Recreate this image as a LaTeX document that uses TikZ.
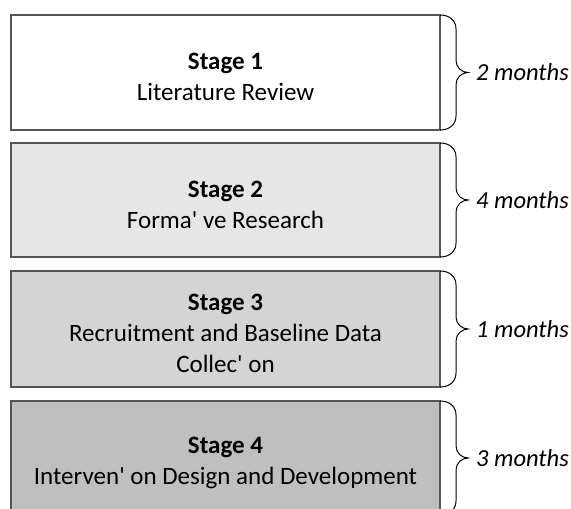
\documentclass[tikz,border=0pt]{standalone}
\usepackage{fontspec}
\setmainfont{Carlito}
\usetikzlibrary{calc}
\definecolor{edgegray}{HTML}{555555}
\definecolor{fillA}{HTML}{FFFFFF}
\definecolor{fillB}{HTML}{E6E6E6}
\definecolor{fillC}{HTML}{D4D4D4}
\definecolor{fillD}{HTML}{BFBFBF}
\newcommand\stagebrace[1]{%
  \draw[bracestyle] (#1.north east) .. controls +(10,0) and +(0,8) .. ($(#1.north east)+(16,-14)$)
    -- ($(#1.east)+(16,12)$) .. controls +(0,-7) and +(-6,0) .. ($(#1.east)+(28,0)$)
    .. controls +(-6,0) and +(0,7) .. ($(#1.east)+(16,-12)$)
    -- ($(#1.south east)+(16,14)$) .. controls +(0,-8) and +(10,0) .. (#1.south east);}
\begin{document}
\begin{tikzpicture}[x=1pt,y=1pt,
  stagebox/.style={draw=edgegray,line width=1.3pt,rectangle,minimum width=429pt,inner sep=0pt,outer sep=0pt,anchor=north west},
  stagetext/.style={align=center,font=\fontsize{25}{31}\selectfont,inner sep=0pt},
  months/.style={font=\fontsize{24.5}{29}\selectfont\itshape,anchor=west,inner sep=0pt},
  bracestyle/.style={draw=black,line width=1pt}]
\useasboundingbox (0,0) rectangle (571,-509);
\clip (0,0) rectangle (571,-509);
\node[stagebox,fill=fillA,minimum height=115pt] (b1) at (11,-15) {};
\node[stagebox,fill=fillB,minimum height=114pt] (b2) at (11,-143) {};
\node[stagebox,fill=fillC,minimum height=116pt] (b3) at (11,-271) {};
\node[stagebox,fill=fillD,minimum height=114pt] (b4) at (11,-401) {};
\node[stagetext] (t1) at ($(b1.center)+(0,-4.5)$) {\textbf{Stage 1}\\Literature Review};
\node[stagetext] (t2) at ($(b2.center)+(0,-4.5)$) {\textbf{Stage 2}\\Forma\textquotesingle\ ve Research};
\node[stagetext] (t3) at ($(b3.center)+(0,-4)$) {\textbf{Stage 3}\\Recruitment and Baseline Data\\Collec\textquotesingle\ on};
\node[stagetext] (t4) at ($(b4.center)+(0,-4.5)$) {\textbf{Stage 4}\\Interven\textquotesingle\ on Design and Development};
\stagebrace{b1}
\stagebrace{b2}
\stagebrace{b3}
\stagebrace{b4}
\node[months] (m1) at ($(b1.east)+(36,0)$) {2 months};
\node[months] (m2) at ($(b2.east)+(36,0)$) {4 months};
\node[months] (m3) at ($(b3.east)+(36,0)$) {1 months};
\node[months] (m4) at ($(b4.east)+(36,0)$) {3 months};
\end{tikzpicture}
\end{document}
